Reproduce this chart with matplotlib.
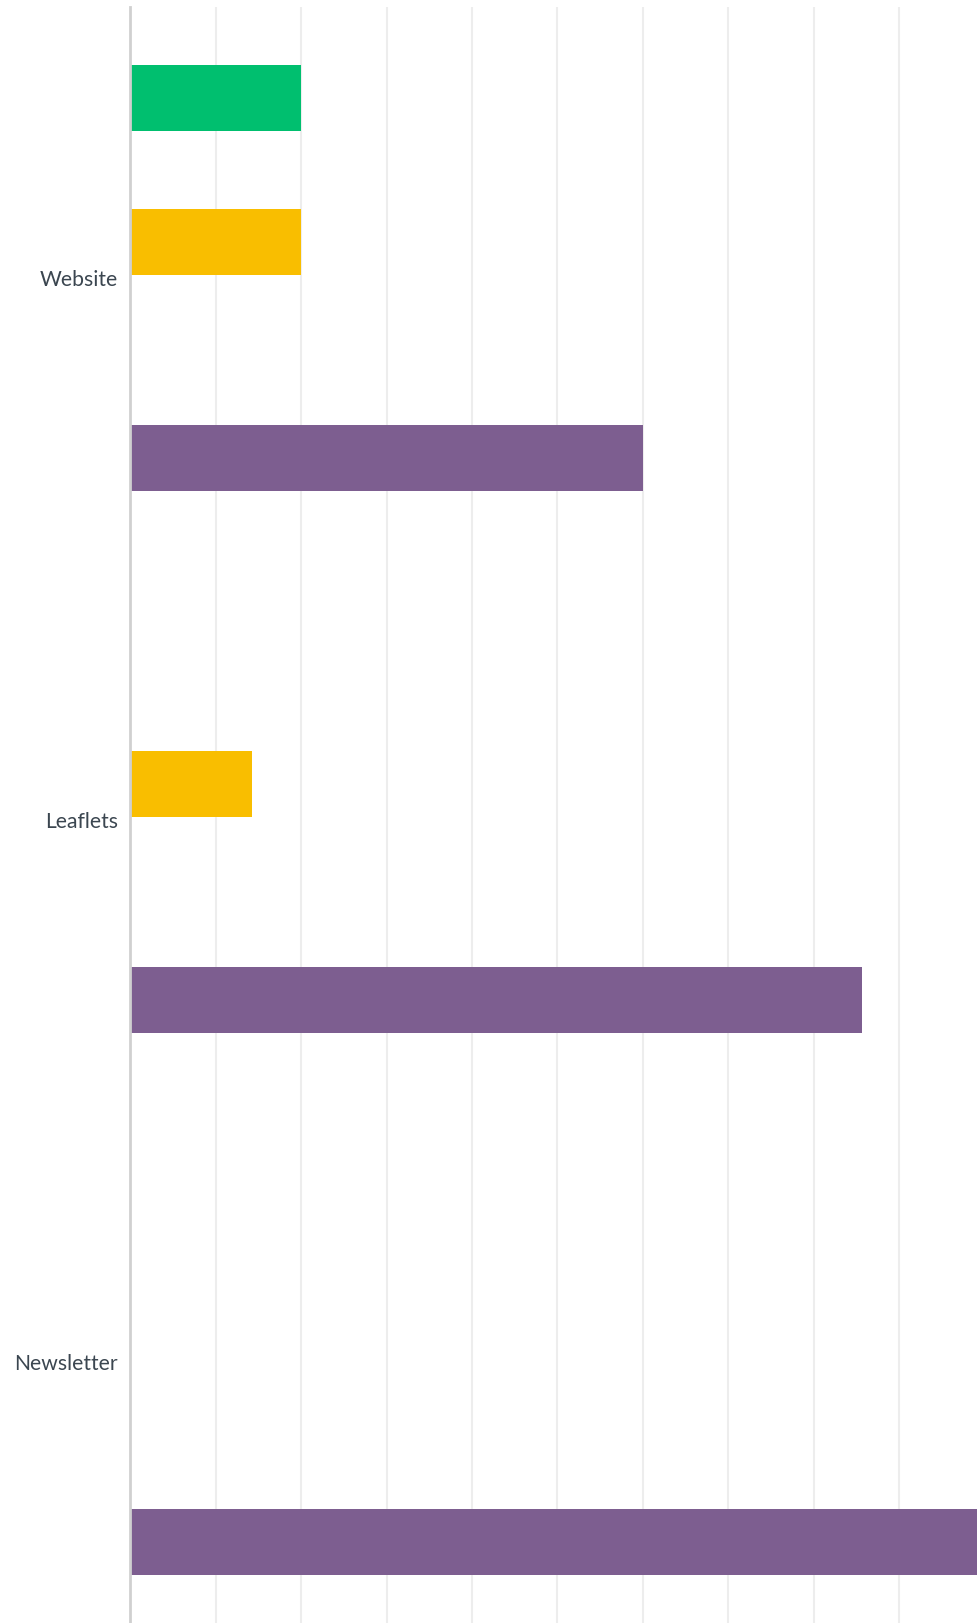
import matplotlib
matplotlib.use("Agg")
import matplotlib.pyplot as plt
import numpy as np

# ---- data ----
categories = ["Website", "Leaflets", "Newsletter"]
series_names = ["Option 1", "Option 2", "Option 3", "Option 4", "Option 5", "Option 6"]
series_colors = ["#00BF6F", "#507CB6", "#F9BE00", "#6BC8CD", "#F05B24", "#7D5E90"]
option1 = [20.0, 0.0, 0.0]
option2 = [0.0, 0.0, 0.0]
option3 = [20.0, 14.29, 0.0]
option4 = [0.0, 0.0, 0.0]
option5 = [0.0, 0.0, 0.0]
option6 = [60.0, 85.71, 100.0]
series_values = [option1, option2, option3, option4, option5, option6]
x_ticks = [0, 10, 20, 30, 40, 50, 60, 70, 80, 90, 100]

W, H = 977, 1623
fig = plt.figure(figsize=(W / 100, H / 100), dpi=100)
fig.patch.set_facecolor("white")

left_px = 130.4
unit_px = 85.4      # pixels per 10 %
top_px = 6.9
band_px = 542.0
ax = fig.add_axes([left_px / W,
                   1 - (top_px + 3 * band_px) / H,
                   (10 * unit_px) / W,
                   (3 * band_px) / H])
ax.set_facecolor("white")

slot = 71.96 / band_px
bar_h = 65.7 / band_px
n = len(series_values)
ypos = np.arange(len(categories))
for i, (vals, col) in enumerate(zip(series_values, series_colors)):
    offs = (i - (n - 1) / 2) * slot
    ax.barh(ypos + offs, vals, height=bar_h, color=col, zorder=3, linewidth=0)

ax.set_xlim(0, 100)
ax.set_ylim(2.5, -0.5)
ax.set_xticks(x_ticks)
ax.xaxis.grid(True, color="#ededed", linewidth=1.5, zorder=0)
ax.yaxis.grid(False)
ax.tick_params(axis="x", length=0, labelbottom=False)
ax.set_yticks(ypos)
ax.set_yticklabels(categories, fontsize=15.2, color="#3b4650", family=["Lato", "DejaVu Sans"])
ax.tick_params(axis="y", length=0, pad=9)
for s in ["top", "right", "bottom"]:
    ax.spines[s].set_visible(False)
ax.spines["left"].set_color("#d0d0d0")
ax.spines["left"].set_linewidth(2)
ax.spines["left"].set_zorder(4)

fig.savefig("out.png", dpi=100, facecolor="white")
